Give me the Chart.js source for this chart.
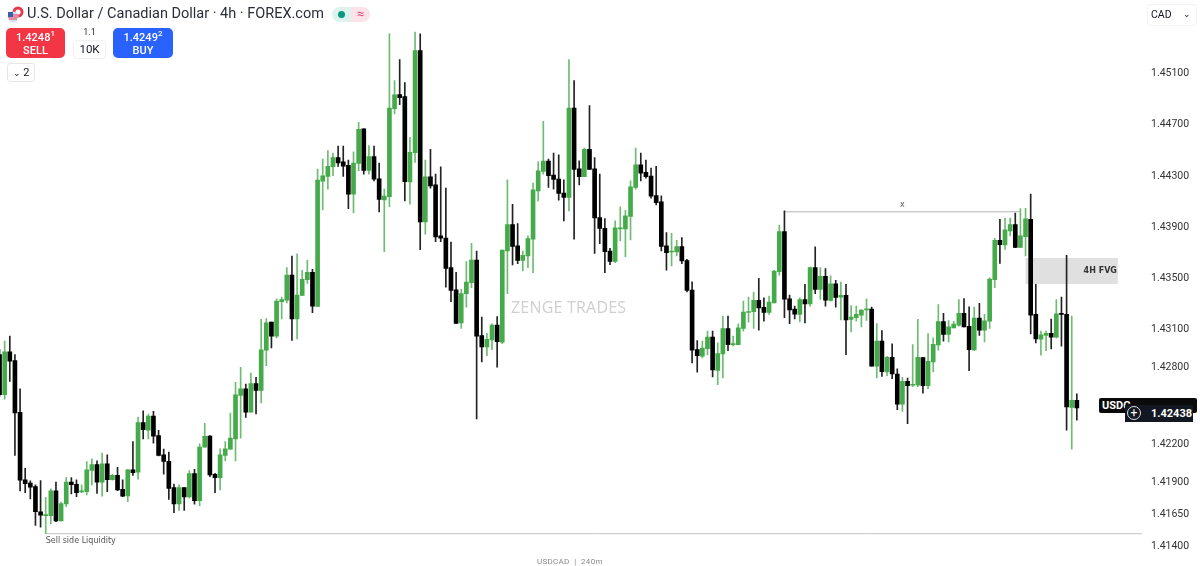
<!DOCTYPE html>
<html>
<head>
<meta charset="utf-8">
<title>USDCAD 4h</title>
<script src="https://cdn.jsdelivr.net/npm/chart.js@4/dist/chart.umd.min.js"></script>
<style>
    html, body { margin: 0; padding: 0; background: #fff; overflow: hidden; }
    #wrap { position: relative; width: 1200px; height: 566px; font-family: Roboto, sans-serif; color: #131722; }
    #wrap canvas { position: absolute; left: 0; top: 0; }
    .ui { position: absolute; white-space: nowrap; }
    .btn { border-radius: 5px; color: #fff; text-align: center; line-height: 13px; font-size: 11px; height: 30px; width: 59px; top: 28px; font-weight: 500; }
    .btn b { display: block; font-weight: 500; margin-top: 3px; }
    .btn sup { font-size: 8px; line-height: 0; }
</style>
</head>
<body>
<div id="wrap">
    <canvas id="myChart" width="1200" height="566"></canvas>

    <svg class="ui" style="left:7px;top:6px" width="17" height="17" viewBox="0 0 17 17">
        <circle cx="11" cy="6" r="5.5" fill="#e8394a"/><circle cx="11" cy="6" r="2.6" fill="#fff"/>
        <circle cx="6" cy="11" r="5.5" fill="#d9e2f5"/>
        <path d="M1 9h10M1 11h10M2 13h8" stroke="#e8394a" stroke-width="1"/>
        <path d="M1 6h5v5H1z" fill="#3a5fb0"/>
    </svg>
    <div class="ui" style="left:27px;top:5px;font-size:14.5px;line-height:18px;color:#2a2e39">U.S. Dollar / Canadian Dollar · 4h · FOREX.com</div>

    <div class="ui" style="left:332px;top:7px;width:19px;height:15px;background:#dff3ee;border-radius:8px 0 0 8px"></div>
    <div class="ui" style="left:338px;top:11px;width:7px;height:7px;background:#089981;border-radius:50%"></div>
    <div class="ui" style="left:351px;top:7px;width:19px;height:15px;background:#fce3ea;border-radius:0 8px 8px 0;color:#e0457b;font-size:13px;line-height:14px;text-align:center">≈</div>

    <div class="ui btn" style="left:6px;background:#f23645"><b>1.4248<sup>1</sup></b>SELL</div>
    <div class="ui" style="left:73px;top:27px;width:33px;text-align:center;font-size:9px;line-height:11px;color:#333">1.1</div>
    <div class="ui" style="left:73px;top:40px;width:31px;height:17px;border:1px solid #f0f0f0;border-radius:4px;text-align:center;font-size:11.5px;line-height:17px">10K</div>
    <div class="ui btn" style="left:113px;width:60px;background:#2962ff"><b>1.4249<sup>2</sup></b>BUY</div>
    <div class="ui" style="left:7px;top:63px;width:26px;height:17px;border:1px solid #e6e6e6;border-radius:3px;text-align:center;font-size:11px;line-height:17px"><span style="font-size:9px">&#8964;</span> 2</div>

    <div class="ui" style="left:1147px;top:4px;width:48px;height:20px;border:1px solid #f2f2f2;border-radius:4px;font-size:10.5px;line-height:20px;text-indent:3px">CAD<span style="position:absolute;right:5px;top:-1px;font-size:9px">&#8964;</span></div>

    <div class="ui" style="left:511px;top:297px;font-size:16px;line-height:20px;color:#cfcfcf;font-family:'Open Sans',sans-serif;letter-spacing:.2px">ZENGE TRADES</div>
    <div class="ui" style="left:537px;top:556px;font-size:8px;line-height:11px;color:#8a8a8a;letter-spacing:.3px">USDCAD &nbsp;|&nbsp; 240m</div>

    <div class="ui" style="left:1099px;top:398px;width:98px;height:15px;background:#0a0a0a;border-radius:2px;color:#fff;font-size:11px;font-weight:700;line-height:15px;text-indent:3px">USDC</div>
    <div class="ui" style="left:1125px;top:405px;width:68px;height:17px;background:#131722"></div>
    <div class="ui" style="left:1127px;top:406px;width:12px;height:12px;border:1px solid #ddd;border-radius:50%;color:#fff;font-size:12px;line-height:12px;text-align:center">+</div>
    <div class="ui" style="left:1151px;top:405px;color:#fff;font-size:11px;font-weight:700;line-height:17px">1.42438</div>
</div>

<script>
// valores, vela por vela
const opens = [
    1.42903,1.42589,1.42924,1.42856,1.42451,1.41923,1.41897,1.41871,1.41674,1.41643,
    1.41643,1.41837,1.41601,1.41735,1.41905,1.41889,1.41829,1.41831,1.41996,1.42043,
    1.41905,1.42048,1.41925,1.41959,1.41850,1.41797,1.42001,1.41983,1.42372,1.42312,
    1.42422,1.42270,1.42119,1.42069,1.41863,1.41735,1.41863,1.41789,1.41972,1.41761,
    1.42179,1.42265,1.41967,1.41941,1.42114,1.42163,1.42244,1.42584,1.42636,1.42453,
    1.42676,1.42623,1.42937,1.43157,1.43047,1.43316,1.43329,1.43525,1.43183,1.43366,
    1.43489,1.43546,1.43279,1.44260,1.44296,1.44372,1.44445,1.44411,1.44383,1.44158,
    1.44398,1.44668,1.44343,1.44451,1.44278,1.44113,1.44139,1.44827,1.44937,1.44921,
    1.44253,1.44482,1.45282,1.43941,1.44294,1.44231,1.43831,1.43815,1.43583,1.43410,
    1.43151,1.43379,1.43465,1.43643,1.43052,1.42963,1.43018,1.43133,1.43000,1.43713,
    1.43920,1.43753,1.43640,1.43674,1.43805,1.44184,1.44336,1.44417,1.44307,1.44275,
    1.44166,1.44132,1.44832,1.44356,1.44294,1.44508,1.44356,1.43975,1.43891,1.43713,
    1.43632,1.43886,1.43886,1.43983,1.44210,1.44388,1.44328,1.44299,1.44147,1.44098,
    1.43753,1.43706,1.43706,1.43747,1.43638,1.43408,1.42942,1.42890,1.42950,1.43039,
    1.42780,1.42908,1.43107,1.42981,1.42981,1.43107,1.43232,1.43238,1.43327,1.43272,
    1.43232,1.43308,1.43551,1.43865,1.43340,1.43259,1.43217,1.43334,1.43300,1.43583,
    1.43413,1.43515,1.43327,1.43457,1.43353,1.43366,1.43178,1.43191,1.43212,1.43253,
    1.43259,1.42812,1.43008,1.42767,1.42882,1.42751,1.42516,1.42694,1.42663,1.42663,
    1.42880,1.42660,1.42846,1.42979,1.43162,1.43060,1.43112,1.43133,1.43225,1.43125,
    1.42940,1.43188,1.43094,1.43164,1.43489,1.43797,1.43760,1.43870,1.43920,1.43742,
    1.43826,1.43962,1.43217,1.43023,1.43052,1.43070,1.43039,1.43225,1.43217,1.42490,1.42545
];
const highs = [
    1.42942,1.43008,1.43047,1.42903,1.42636,1.42014,1.41915,1.41884,1.41918,1.41787,
    1.41852,1.41905,1.41750,1.41941,1.41941,1.41923,1.41884,1.42067,1.42087,1.42072,
    1.42132,1.42119,1.41967,1.42022,1.41923,1.42006,1.42223,1.42414,1.42464,1.42438,
    1.42459,1.42310,1.42163,1.42140,1.41891,1.41884,1.41863,1.41996,1.42006,1.42205,
    1.42365,1.42270,1.41975,1.42166,1.42223,1.42446,1.42686,1.42804,1.42673,1.42759,
    1.42725,1.43178,1.43185,1.43157,1.43340,1.43353,1.43583,1.43674,1.43692,1.43562,
    1.43640,1.43570,1.44354,1.44432,1.44498,1.44479,1.44534,1.44534,1.44424,1.44490,
    1.44720,1.44668,1.44537,1.44534,1.44401,1.44197,1.45412,1.45047,1.45211,1.45031,
    1.44602,1.45426,1.45412,1.44424,1.44508,1.44315,1.44372,1.44205,1.43784,1.43546,
    1.43413,1.43630,1.43774,1.43713,1.43196,1.43070,1.43144,1.43201,1.43721,1.44270,
    1.44079,1.43928,1.43713,1.43831,1.44244,1.44411,1.44728,1.44432,1.44479,1.44466,
    1.44270,1.45211,1.45047,1.44419,1.44519,1.44850,1.44445,1.44315,1.43967,1.43734,
    1.43949,1.44058,1.44032,1.44262,1.44519,1.44479,1.44424,1.44362,1.44375,1.44145,
    1.43857,1.43852,1.43797,1.43818,1.43648,1.43473,1.43013,1.43008,1.43086,1.43086,
    1.42995,1.43204,1.43204,1.43047,1.43144,1.43321,1.43353,1.43392,1.43499,1.43347,
    1.43361,1.43562,1.43917,1.44027,1.43368,1.43282,1.43347,1.43452,1.43588,1.43745,
    1.43583,1.43575,1.43520,1.43483,1.43470,1.43452,1.43287,1.43282,1.43256,1.43340,
    1.43274,1.43146,1.43091,1.42890,1.42987,1.42791,1.42725,1.42720,1.42981,1.43178,
    1.42880,1.43068,1.43034,1.43295,1.43225,1.43170,1.43164,1.43334,1.43342,1.43277,
    1.43274,1.43303,1.43217,1.43504,1.43813,1.43962,1.43970,1.43970,1.44009,1.44045,
    1.44048,1.44158,1.43452,1.43086,1.43086,1.43180,1.43334,1.43353,1.43679,1.43204,1.42597
];
const lows = [
    1.42576,1.42555,1.42694,1.42114,1.41837,1.41823,1.41774,1.41567,1.41554,1.41502,
    1.41578,1.41596,1.41601,1.41714,1.41813,1.41792,1.41823,1.41805,1.41884,1.41818,
    1.41795,1.41831,1.41920,1.41839,1.41792,1.41753,1.41957,1.41928,1.42244,1.42244,
    1.42210,1.42111,1.41967,1.41771,1.41667,1.41685,1.41685,1.41779,1.41732,1.41722,
    1.42179,1.41949,1.41823,1.41844,1.42072,1.42161,1.42072,1.42250,1.42412,1.42453,
    1.42438,1.42524,1.42817,1.42955,1.43034,1.43183,1.43308,1.43013,1.43026,1.43366,
    1.43460,1.43230,1.43279,1.44035,1.44197,1.44302,1.44375,1.44296,1.44045,1.44014,
    1.44341,1.44315,1.44315,1.44262,1.44019,1.43708,1.44061,1.44785,1.44858,1.44105,
    1.44079,1.44406,1.43724,1.43844,1.44205,1.43787,1.43787,1.43431,1.43316,1.43146,
    1.43107,1.43274,1.43426,1.42399,1.42846,1.42895,1.42942,1.42804,1.42989,1.43379,
    1.43604,1.43614,1.43557,1.43583,1.43543,1.44105,1.44315,1.44210,1.44197,1.44111,
    1.43949,1.44027,1.43805,1.44231,1.44294,1.44351,1.43695,1.43771,1.43543,1.43606,
    1.43622,1.43792,1.43669,1.43800,1.44197,1.44262,1.44283,1.44126,1.44074,1.43713,
    1.43564,1.43596,1.43674,1.43614,1.43394,1.42838,1.42765,1.42877,1.42903,1.42728,
    1.42668,1.42720,1.42934,1.42968,1.42981,1.43086,1.43157,1.43107,1.43094,1.43164,
    1.43217,1.43308,1.43525,1.43191,1.43144,1.43183,1.43159,1.43151,1.43282,1.43379,
    1.43334,1.43282,1.43321,1.43274,1.43175,1.42903,1.43081,1.43164,1.43120,1.43170,
    1.42812,1.42720,1.42733,1.42738,1.42715,1.42472,1.42459,1.42362,1.42652,1.42652,
    1.42602,1.42636,1.42767,1.42937,1.43008,1.43002,1.43112,1.43125,1.43120,1.42778,
    1.42934,1.43052,1.43002,1.43107,1.43426,1.43617,1.43726,1.43831,1.43740,1.43740,
    1.43674,1.43065,1.42995,1.42898,1.42934,1.42947,1.43034,1.42968,1.42312,1.42163,1.42391
];
const closes = [
    1.42589,1.42924,1.42851,1.42446,1.41920,1.41894,1.41865,1.41674,1.41646,1.41651,
    1.41837,1.41601,1.41737,1.41905,1.41886,1.41823,1.41837,1.42001,1.42043,1.41905,
    1.42048,1.41925,1.41959,1.41844,1.41795,1.42001,1.41980,1.42372,1.42315,1.42422,
    1.42265,1.42114,1.42067,1.41857,1.41735,1.41863,1.41789,1.41972,1.41761,1.42179,
    1.42263,1.41962,1.41941,1.42119,1.42166,1.42250,1.42589,1.42636,1.42453,1.42676,
    1.42623,1.42940,1.43151,1.43047,1.43321,1.43334,1.43525,1.43183,1.43368,1.43491,
    1.43546,1.43282,1.44268,1.44302,1.44375,1.44445,1.44403,1.44377,1.44158,1.44401,
    1.44665,1.44343,1.44451,1.44275,1.44116,1.44142,1.44832,1.44934,1.44913,1.44255,
    1.44485,1.45282,1.43941,1.44294,1.44223,1.43823,1.43813,1.43577,1.43405,1.43146,
    1.43381,1.43470,1.43643,1.43047,1.42963,1.43023,1.43133,1.43005,1.43721,1.43920,
    1.43750,1.43640,1.43679,1.43810,1.44192,1.44341,1.44417,1.44302,1.44273,1.44163,
    1.44132,1.44832,1.44351,1.44294,1.44508,1.44351,1.43972,1.43889,1.43708,1.43632,
    1.43894,1.43894,1.43988,1.44215,1.44388,1.44322,1.44294,1.44142,1.44092,1.43750,
    1.43700,1.43713,1.43747,1.43635,1.43405,1.42937,1.42895,1.42953,1.43039,1.42783,
    1.42911,1.43107,1.42981,1.42989,1.43112,1.43235,1.43240,1.43327,1.43269,1.43232,
    1.43313,1.43557,1.43865,1.43337,1.43253,1.43219,1.43334,1.43300,1.43583,1.43413,
    1.43515,1.43329,1.43457,1.43350,1.43366,1.43175,1.43196,1.43217,1.43251,1.43261,
    1.42812,1.43008,1.42770,1.42882,1.42751,1.42516,1.42694,1.42660,1.42670,1.42882,
    1.42660,1.42851,1.42984,1.43162,1.43060,1.43120,1.43141,1.43225,1.43120,1.42942,
    1.43188,1.43094,1.43167,1.43494,1.43797,1.43763,1.43878,1.43920,1.43742,1.43831,
    1.43964,1.43212,1.43026,1.43057,1.43070,1.43039,1.43222,1.43217,1.42493,1.42545,1.42485
];
const tickValues = [1.451, 1.447, 1.443, 1.439, 1.435, 1.431, 1.428, 1.422, 1.419, 1.4165, 1.414];

// niveles dibujados a mano sobre el grafico
const xLevel = 1.44020;
const xLevelFrom = 153;
const xLevelTo = 199;
const liquidityLevel = 1.41502;
const liquidityFrom = 9;
const fvgTop = 1.43659;
const fvgBottom = 1.43455;
const fvgFrom = 200;
const fvgTo = 218;

const verde = "#45aa4a";
const verdeMecha = "#6cbd70";
const negro = "#000000";

let cuerpos = [];
let mechas = [];
let coloresCuerpo = [];
let coloresMecha = [];

opens.forEach(function (open, i) {
    let sube = closes[i] >= open;
    cuerpos.push({ x: i, y: [open, closes[i]] });
    mechas.push({ x: i, y: [lows[i], highs[i]] });
    coloresCuerpo.push(sube ? verde : negro);
    coloresMecha.push(sube ? verdeMecha : "#222222");
});

// la caja FVG va detras de las velas, los textos encima
const dibujos = {
    id: "dibujos",
    beforeDatasetsDraw: function (chart) {
        const ctx = chart.ctx;
        const x = chart.scales.x;
        const y = chart.scales.y;
        ctx.save();
        ctx.fillStyle = "#e0e0e0";
        ctx.fillRect(x.getPixelForValue(fvgFrom), y.getPixelForValue(fvgTop),
            x.getPixelForValue(fvgTo) - x.getPixelForValue(fvgFrom),
            y.getPixelForValue(fvgBottom) - y.getPixelForValue(fvgTop));
        ctx.restore();
    },
    afterDatasetsDraw: function (chart) {
        const ctx = chart.ctx;
        const x = chart.scales.x;
        const y = chart.scales.y;
        ctx.save();
        ctx.textBaseline = "middle";
        ctx.fillStyle = "#333333";
        ctx.font = "bold 8px 'DejaVu Sans'";
        ctx.textAlign = "right";
        ctx.fillText("4H FVG", x.getPixelForValue(fvgTo) - 1, y.getPixelForValue((fvgTop + fvgBottom) / 2));
        ctx.font = "8px 'DejaVu Sans'";
        ctx.fillStyle = "#555555";
        ctx.textAlign = "center";
        ctx.fillText("x", x.getPixelForValue((xLevelFrom + xLevelTo) / 2), y.getPixelForValue(xLevel) - 7);
        ctx.textAlign = "left";
        ctx.fillText("Sell side Liquidity", x.getPixelForValue(liquidityFrom), y.getPixelForValue(liquidityLevel) + 7);
        ctx.restore();
    }
};

new Chart(document.getElementById("myChart"), {
    type: "bar",
    data: {
        datasets: [
            {
                label: "cuerpos",
                data: cuerpos,
                backgroundColor: coloresCuerpo,
                barThickness: 4,
                grouped: false
            },
            {
                label: "mechas",
                data: mechas,
                backgroundColor: coloresMecha,
                barThickness: 1,
                grouped: false
            },
            {
                type: "line",
                label: "x",
                data: [{ x: xLevelFrom, y: xLevel }, { x: xLevelTo, y: xLevel }],
                borderColor: "#b4b4b4",
                borderWidth: 1,
                pointRadius: 0
            },
            {
                type: "line",
                label: "Sell side Liquidity",
                data: [{ x: liquidityFrom, y: liquidityLevel }, { x: 223, y: liquidityLevel }],
                borderColor: "#c4c4c4",
                borderWidth: 1,
                pointRadius: 0
            }
        ]
    },
    options: {
        responsive: false,
        animation: false,
        layout: { padding: 0 },
        plugins: { legend: { display: false }, tooltip: { enabled: false } },
        scales: {
            x: { type: "linear", display: false, offset: false, min: 0.09, max: 222.7 },
            y: {
                position: "right",
                min: 1.41369,
                max: 1.45557,
                grid: { display: false, drawTicks: false },
                border: { display: false },
                afterFit: function (scale) { scale.width = 58; },
                afterBuildTicks: function (scale) {
                    scale.ticks = tickValues.map(function (v) { return { value: v }; });
                },
                ticks: {
                    autoSkip: false,
                    padding: 9,
                    color: "#333333",
                    font: { family: "Roboto", size: 10.5 },
                    callback: function (value) { return value.toFixed(5); }
                }
            }
        }
    },
    plugins: [dibujos]
});
</script>
</body>
</html>
